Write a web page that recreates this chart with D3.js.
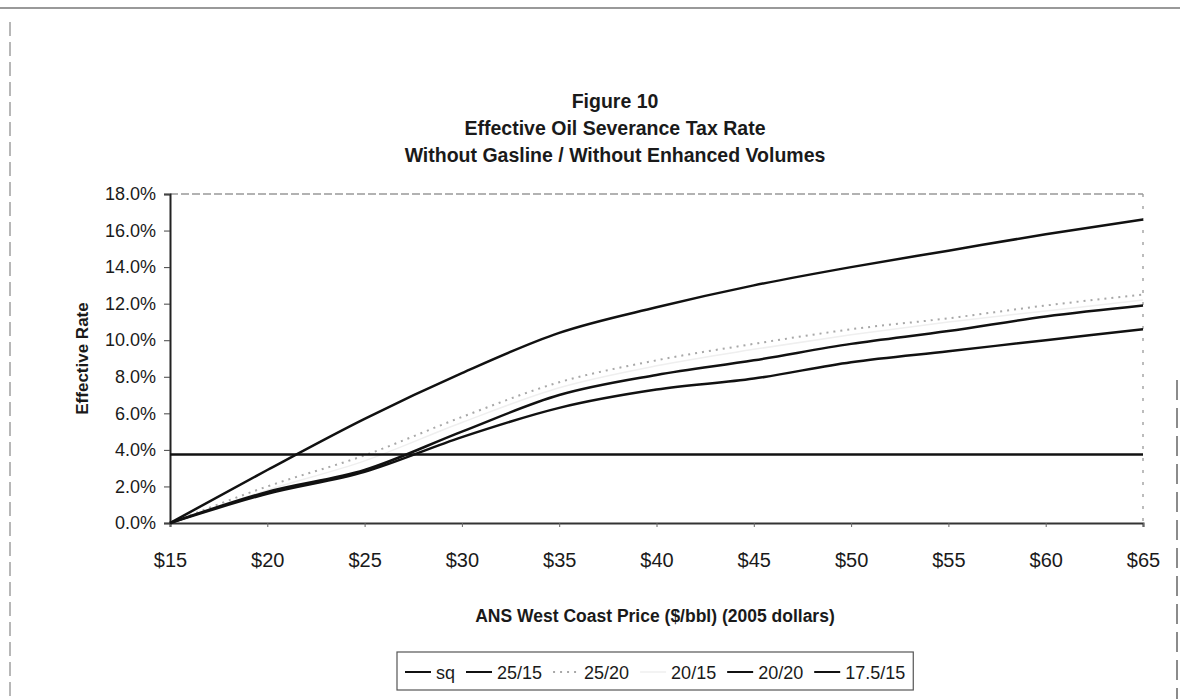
<!DOCTYPE html>
<html>
<head>
<meta charset="utf-8">
<script src="https://cdn.jsdelivr.net/npm/d3@7"></script>
<style>
  body { margin: 0; background: #fff; }
  svg text { font-family: "Liberation Sans", Arial, sans-serif; fill: #1a1a1a; }
</style>
</head>
<body>
<script>
// dados
const prices = [15, 20, 25, 30, 35, 40, 45, 50, 55, 60, 65];
const sq      = [3.75, 3.75, 3.75, 3.75, 3.75, 3.75, 3.75, 3.75, 3.75, 3.75, 3.75];
const r25_15  = [0, 2.9, 5.7, 8.2, 10.4, 11.8, 13.0, 14.0, 14.9, 15.8, 16.6];
const r25_20  = [0, 2.0, 3.7, 5.8, 7.7, 8.9, 9.8, 10.6, 11.2, 11.9, 12.5];
const r20_15  = [0, 1.8, 3.4, 5.5, 7.4, 8.6, 9.5, 10.3, 11.0, 11.6, 12.2];
const r20_20  = [0, 1.7, 2.9, 5.0, 7.0, 8.1, 8.9, 9.8, 10.5, 11.3, 11.9];
const r175_15 = [0, 1.6, 2.8, 4.7, 6.3, 7.3, 7.9, 8.8, 9.4, 10.0, 10.6];
const seriesNames = ["sq", "25/15", "25/20", "20/15", "20/20", "17.5/15"];
const yTicks = [0, 2, 4, 6, 8, 10, 12, 14, 16, 18];
const titleLines = ["Figure 10", "Effective Oil Severance Tax Rate", "Without Gasline / Without Enhanced Volumes"];

const series = [
  { name: seriesNames[0], values: sq,      color: "#111", width: 2.5, dash: null },
  { name: seriesNames[1], values: r25_15,  color: "#111", width: 2.5, dash: null },
  { name: seriesNames[2], values: r25_20,  color: "#a8a8a8", width: 2, dash: "2,5" },
  { name: seriesNames[3], values: r20_15,  color: "#efefef", width: 1.5, dash: null },
  { name: seriesNames[4], values: r20_20,  color: "#111", width: 2.5, dash: null },
  { name: seriesNames[5], values: r175_15, color: "#111", width: 2.5, dash: null }
];

const W = 1180, H = 699;
const svg = d3.select("body").append("svg").attr("width", W).attr("height", H);

// moldura externa
svg.append("line").attr("x1", 0).attr("x2", W).attr("y1", 8).attr("y2", 8)
  .attr("stroke", "#777").attr("stroke-width", 1.5);
svg.append("line").attr("x1", 10).attr("x2", 10).attr("y1", 22).attr("y2", H)
  .attr("stroke", "#888").attr("stroke-width", 1.2).attr("stroke-dasharray", "14,6");
svg.append("line").attr("x1", 1177).attr("x2", 1177).attr("y1", 380).attr("y2", H)
  .attr("stroke", "#666").attr("stroke-width", 1.5).attr("stroke-dasharray", "20,8");

// titulo
titleLines.forEach((t, i) => {
  svg.append("text")
    .attr("x", 615).attr("y", 108 + i * 27)
    .attr("text-anchor", "middle")
    .attr("font-size", 19.5).attr("font-weight", "bold")
    .text(t);
});

const plot = { left: 170, right: 1143, top: 194, bottom: 523 };

const x = d3.scaleLinear().domain([15, 65]).range([plot.left, plot.right]);
const y = d3.scaleLinear().domain([0, 18]).range([plot.bottom, plot.top]);

// borda superior e direita da area do grafico
svg.append("line").attr("x1", plot.left).attr("x2", plot.right)
  .attr("y1", plot.top).attr("y2", plot.top)
  .attr("stroke", "#999").attr("stroke-width", 1.3).attr("stroke-dasharray", "8,3");
svg.append("line").attr("x1", plot.right).attr("x2", plot.right)
  .attr("y1", plot.top).attr("y2", plot.bottom)
  .attr("stroke", "#999").attr("stroke-width", 1.3).attr("stroke-dasharray", "3,9");

// eixo Y
const yAxis = svg.append("g")
  .attr("transform", `translate(${plot.left},0)`)
  .call(d3.axisLeft(y).tickValues(yTicks).tickSize(6).tickPadding(8)
    .tickFormat(d => d.toFixed(1) + "%"));
yAxis.select(".domain").attr("stroke", "#222").attr("stroke-width", 2);
yAxis.selectAll(".tick line").attr("stroke", "#444");
yAxis.selectAll("text").attr("font-size", 18).attr("fill", "#1a1a1a");

// eixo X
const xAxis = svg.append("g")
  .attr("transform", `translate(0,${plot.bottom})`)
  .call(d3.axisBottom(x).tickValues(prices).tickSize(4).tickPadding(26)
    .tickFormat(d => "$" + d));
xAxis.select(".domain").attr("stroke", "#333").attr("stroke-width", 2);
xAxis.selectAll(".tick line").attr("stroke", "#666");
xAxis.selectAll("text").attr("font-size", 20).attr("fill", "#1a1a1a");

// titulos dos eixos
svg.append("text")
  .attr("transform", `translate(88,${(plot.top + plot.bottom) / 2}) rotate(-90)`)
  .attr("text-anchor", "middle")
  .attr("font-size", 17).attr("font-weight", "bold")
  .text("Effective Rate");
svg.append("text")
  .attr("x", 655).attr("y", 622)
  .attr("text-anchor", "middle")
  .attr("font-size", 17.5).attr("font-weight", "bold")
  .text("ANS West Coast Price ($/bbl) (2005 dollars)");

// linhas
const line = d3.line()
  .x((d, i) => x(prices[i]))
  .y(d => y(d))
  .curve(d3.curveMonotoneX);

const drawOrder = [3, 2, 0, 1, 4, 5];
drawOrder.forEach(k => {
  const s = series[k];
  svg.append("path")
    .datum(s.values)
    .attr("fill", "none")
    .attr("stroke", s.color)
    .attr("stroke-width", s.width)
    .attr("stroke-dasharray", s.dash)
    .attr("d", line);
});

// legenda
const legend = svg.append("g").attr("transform", "translate(397,652)");
const legendItems = legend.append("g");
let lx = 8;
series.forEach(s => {
  const g = legendItems.append("g").attr("transform", `translate(${lx},0)`);
  g.append("line").attr("x1", 0).attr("x2", 26).attr("y1", 20).attr("y2", 20)
    .attr("stroke", s.color).attr("stroke-width", s.width === 2.5 ? 2 : s.width)
    .attr("stroke-dasharray", s.dash);
  const t = g.append("text").attr("x", 31).attr("y", 26.5)
    .attr("font-size", 18).text(s.name);
  lx += 31 + t.node().getComputedTextLength() + 11;
});
legend.insert("rect", ":first-child")
  .attr("x", 0).attr("y", 0).attr("width", lx - 3).attr("height", 38)
  .attr("fill", "#fff").attr("stroke", "#555").attr("stroke-width", 1.2);
</script>
</body>
</html>
